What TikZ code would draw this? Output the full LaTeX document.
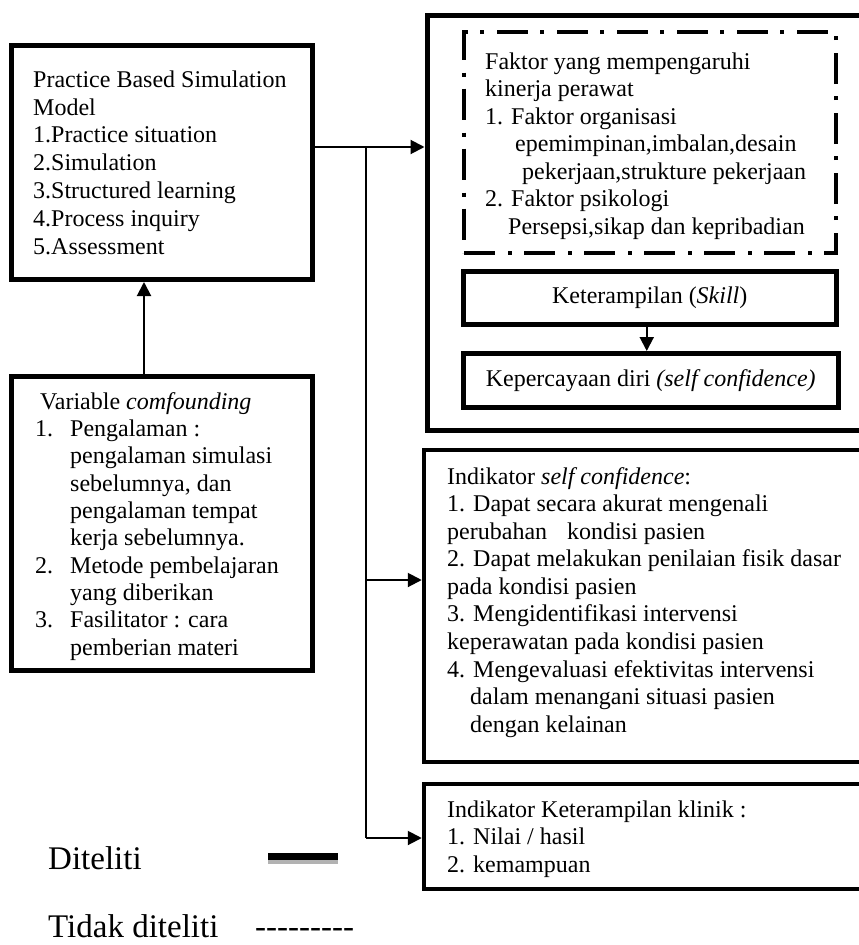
\documentclass[tikz,border=0pt]{standalone}
\usepackage{fontspec}
\setmainfont{Liberation Serif}
\usetikzlibrary{arrows.meta}
\begin{document}
\begin{tikzpicture}[x=1pt,y=-1pt,
  box/.style={draw, line width=5pt, rectangle, inner sep=0pt},
  dashbox/.style={draw, line width=4pt, rectangle, inner sep=0pt,
    dash pattern=on 31pt off 13pt on 4pt off 12pt},
  txt/.style={anchor=north west, inner sep=0pt, align=left},
  conn/.style={line width=2pt},
  arr/.style={line width=2pt, -{Triangle[length=14pt,width=14pt]}},
  lbl/.style={anchor=base west, inner sep=0pt, font=\fontsize{33}{36}\selectfont}
]
\clip (0,0) rectangle (859,945);
\fill[white] (0,0) rectangle (859,945);

% boxes
\node[box, minimum width=301pt, minimum height=234pt] (b1) at (162,162.5) {};
\node[box, minimum width=301pt, minimum height=293.5pt] (b2) at (162,523.25) {};
\node[box, minimum width=439pt, minimum height=414.5pt] (big) at (646.5,222.75) {};
\node[dashbox, minimum width=371.5pt, minimum height=220.5pt] (fak) at (649.75,142.25) {};
\node[box, minimum width=372.5pt, minimum height=53.5pt, font=\fontsize{24}{27.5}\selectfont] (ket) at (649.75,297.75) {Keterampilan (\textit{Skill})};
\node[box, minimum width=374.5pt, minimum height=53.5pt, font=\fontsize{24}{27.5}\selectfont] (kep) at (650.75,380.25) {Kepercayaan diri \textit{(self confidence)}};
\node[box, line width=4.5pt, minimum width=442pt, minimum height=312pt] (sc) at (645,606) {};
\node[box, line width=4.5pt, minimum width=442pt, minimum height=105pt] (kl) at (645,836.5) {};

% texts
\node[txt, font=\fontsize{24}{27.8}\selectfont] (b1t) at (33,69) {\rule{0pt}{18pt}Practice Based Simulation\\Model\\1.Practice situation\\2.Simulation\\3.Structured learning\\4.Process inquiry\\5.Assessment};

\node[txt, font=\fontsize{24}{27.33}\selectfont] (b2t) at (35,391) {\rule{0pt}{18pt}\hspace*{5pt}Variable \textit{comfounding}\\
\makebox[35pt][l]{1.}Pengalaman :\\
\hspace*{35pt}pengalaman simulasi\\
\hspace*{35pt}sebelumnya, dan\\
\hspace*{35pt}pengalaman tempat\\
\hspace*{35pt}kerja sebelumnya.\\
\makebox[35pt][l]{2.}Metode pembelajaran\\
\hspace*{35pt}yang diberikan\\
\makebox[35pt][l]{3.}Fasilitator : cara\\
\hspace*{35pt}pemberian materi};

\node[txt, font=\fontsize{24}{27.5}\selectfont] (fakt) at (485,51) {\rule{0pt}{18pt}Faktor yang mempengaruhi\\kinerja perawat\\1. Faktor organisasi\\
\hspace*{30pt}epemimpinan,imbalan,desain\\
\hspace*{37pt}pekerjaan,strukture pekerjaan\\
2. Faktor psikologi\\
\hspace*{23pt}Persepsi,sikap dan kepribadian};

\node[txt, font=\fontsize{24}{27.55}\selectfont] (sct) at (447,466) {\rule{0pt}{18pt}Indikator \textit{self confidence}:\\
1. Dapat secara akurat mengenali\\
perubahan\hspace{20pt}kondisi pasien\\
2. Dapat melakukan penilaian fisik dasar\\
pada kondisi pasien\\
3. Mengidentifikasi intervensi\\
keperawatan pada kondisi pasien\\
4. Mengevaluasi efektivitas intervensi\\
\hspace*{23pt}dalam menangani situasi pasien\\
\hspace*{23pt}dengan kelainan};

\node[txt, font=\fontsize{24}{27.5}\selectfont] (klt) at (447,799) {\rule{0pt}{18pt}Indikator Keterampilan klinik :\\1. Nilai / hasil\\2. kemampuan};

% connectors
\coordinate (j1) at (366,147);
\coordinate (j2) at (366,580);
\coordinate (j3) at (366,838);
\draw[arr] (b1.east |- j1) -- (big.west |- j1);
\draw[conn] (j1) -- (j3);
\draw[arr] (j2) -- (sc.west |- j2);
\draw[arr] (j3) -- (kl.west |- j3);
\draw[arr] ([xshift=-18pt]b2.north) -- ([xshift=-18pt]b1.south);
\draw[arr] ([xshift=-3pt]ket.south) -- ([xshift=-3pt]ket.south |- kep.north);

% legend
\node[lbl] (l1) at (48,869) {Diteliti};
\node[lbl] (l2) at (48,937) {Tidak diteliti};
\node[lbl] (l3) at (255,937) {-{}-{}-{}-{}-{}-{}-{}-{}-};
\coordinate (s1) at (268,862);
\coordinate (s2) at (338,862);
\draw[gray!60, line width=4pt] (s1) -- (s2);
\draw[line width=7pt] ([yshift=5.5pt]s1) -- ([yshift=5.5pt]s2);
\end{tikzpicture}
\end{document}
